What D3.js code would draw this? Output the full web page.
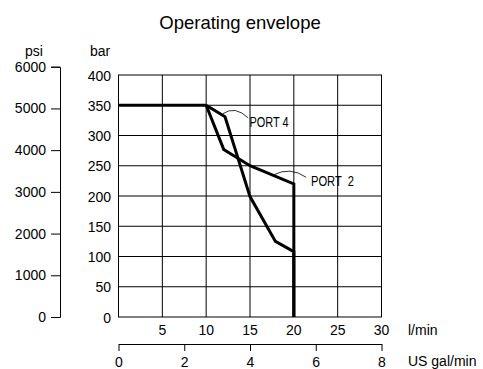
<!DOCTYPE html>
<html>
<head>
<meta charset="utf-8">
<script src="https://cdn.jsdelivr.net/npm/d3@7"></script>
<style>
  body { margin: 0; background: #fff; }
  text { font-family: "Liberation Sans", Arial, sans-serif; fill: #000; }
  .port { white-space: pre; }
</style>
</head>
<body>
<div id="chart"></div>
<script>
// flow (l/min) vs pressure (bar)
const common = [[0, 350], [10, 350]];
const port4 = [[10, 350], [12.15, 331], [15, 199], [17.9, 125], [20, 108], [20, 0]];
const port2 = [[10, 350], [12, 277], [15, 250], [20, 220], [20, 0]];

const flowTicks = [5, 10, 15, 20, 25, 30];
const barTicks = [0, 50, 100, 150, 200, 250, 300, 350, 400];
const psiTicks = [0, 1000, 2000, 3000, 4000, 5000, 6000];
const galTicks = [0, 2, 4, 6, 8];
const PSI_PER_BAR = 14.5038;

const W = 483, H = 369;
const plot = {left: 118.5, right: 381.5, top: 75, bottom: 317};
const fs = '14px';

var svg = d3.select('#chart')
  .append('svg')
  .attr('width', W)
  .attr('height', H);

// scales
const x = d3.scaleLinear().domain([0, 30]).range([plot.left, plot.right]);
const y = d3.scaleLinear().domain([0, 400]).range([plot.bottom, plot.top]);
const psi = d3.scaleLinear().domain([0, 6000]).range([y(0), y(6000 / PSI_PER_BAR)]);
const gal = d3.scaleLinear().domain([0, 8]).range([plot.left, plot.right]);

// title
svg.append('text')
  .attr('x', 240)
  .attr('y', 29)
  .attr('text-anchor', 'middle')
  .style('font-size', '18.5px')
  .text('Operating envelope');

// grid
const grid = svg.append('g');
grid.selectAll('.vgrid')
  .data(flowTicks.filter(d => d < 30))
  .enter().append('line')
  .attr('x1', d => x(d)).attr('x2', d => x(d))
  .attr('y1', y(0)).attr('y2', y(400))
  .attr('stroke', '#000').attr('stroke-width', 1);
grid.selectAll('.hgrid')
  .data(barTicks.filter(d => d > 0 && d < 400))
  .enter().append('line')
  .attr('x1', x(0)).attr('x2', x(30))
  .attr('y1', d => y(d)).attr('y2', d => y(d))
  .attr('stroke', '#000').attr('stroke-width', 1);
grid.append('rect')
  .attr('x', x(0)).attr('y', y(400))
  .attr('width', x(30) - x(0)).attr('height', y(0) - y(400))
  .attr('fill', 'none').attr('stroke', '#000').attr('stroke-width', 1);

// bar axis labels
svg.append('g')
  .selectAll('text')
  .data(barTicks)
  .enter().append('text')
  .attr('x', 111)
  .attr('y', d => y(d) + 5.5)
  .attr('text-anchor', 'end')
  .style('font-size', fs)
  .text(d => d);

svg.append('text')
  .attr('x', 100).attr('y', 56)
  .attr('text-anchor', 'middle')
  .style('font-size', fs)
  .text('bar');

// psi axis
svg.append('g')
  .attr('transform', 'translate(60,0)')
  .call(d3.axisLeft(psi).tickValues(psiTicks).tickFormat(d3.format('d')).tickSize(9).tickSizeOuter(9).tickPadding(5))
  .call(g => g.selectAll('path, line').attr('stroke', '#000'))
  .selectAll('.tick > text')
  .style('font-family', '"Liberation Sans", Arial, sans-serif')
  .style('font-size', fs);

svg.append('text')
  .attr('x', 34).attr('y', 56)
  .attr('text-anchor', 'middle')
  .style('font-size', fs)
  .text('psi');

// flow labels (l/min)
svg.append('g')
  .selectAll('text')
  .data(flowTicks)
  .enter().append('text')
  .attr('x', d => x(d))
  .attr('y', 335)
  .attr('text-anchor', 'middle')
  .style('font-size', fs)
  .text(d => d);

svg.append('text')
  .attr('x', 408).attr('y', 335)
  .style('font-size', fs)
  .text('l/min');

// US gal/min axis
svg.append('g')
  .attr('transform', 'translate(0,344)')
  .call(d3.axisBottom(gal).tickValues(galTicks).tickSize(7).tickSizeOuter(0).tickPadding(6))
  .call(g => g.selectAll('path, line').attr('stroke', '#000'))
  .selectAll('.tick > text')
  .style('font-family', '"Liberation Sans", Arial, sans-serif')
  .style('font-size', fs);

svg.append('text')
  .attr('x', 408).attr('y', 366)
  .style('font-size', fs)
  .text('US gal/min');

// envelope curves
const line = d3.line().x(d => x(d[0])).y(d => y(d[1]));
[common, port4, port2].forEach(function(data) {
  svg.append('path')
    .datum(data)
    .attr('d', line)
    .attr('fill', 'none')
    .attr('stroke', '#000')
    .attr('stroke-width', 3)
    .attr('stroke-linejoin', 'miter');
});

// callouts
svg.append('path')
  .attr('d', `M${x(11.9)},${y(336)} Q${x(13.3)},${y(350)} ${x(14.8)},${y(329)}`)
  .attr('fill', 'none').attr('stroke', '#000').attr('stroke-width', 0.8);
svg.append('text')
  .attr('class', 'port')
  .attr('x', 249.5).attr('y', 126.5)
  .attr('textLength', 39)
  .attr('lengthAdjust', 'spacingAndGlyphs')
  .style('font-size', '15px')
  .text('PORT 4');

svg.append('path')
  .attr('d', `M${x(17.7)},${y(235)} Q${x(19.6)},${y(249)} ${x(21.4)},${y(231)}`)
  .attr('fill', 'none').attr('stroke', '#000').attr('stroke-width', 0.8);
svg.append('text')
  .attr('class', 'port')
  .attr('x', 311).attr('y', 185.5)
  .attr('textLength', 43)
  .attr('lengthAdjust', 'spacingAndGlyphs')
  .style('font-size', '15.5px')
  .text('PORT  2');
</script>
</body>
</html>
